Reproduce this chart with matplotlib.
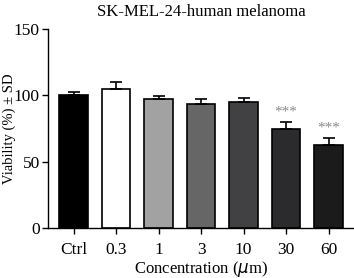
import matplotlib.pyplot as plt

# values
categories = ["Ctrl", "0.3", "1", "3", "10", "30", "60"]
viability = [100.3, 104.8, 97.0, 93.2, 95.0, 74.8, 62.5]
sd = [2.4, 5.2, 2.5, 3.8, 3.2, 4.8, 5.1]
stars = ["", "", "", "", "", "***", "***"]
colors = ["#000000", "#ffffff", "#a2a2a2", "#666666", "#414143", "#2b2b2d", "#1b1b1b"]

plt.rcParams["font.family"] = ["Liberation Serif", "DejaVu Serif"]

fig = plt.figure(figsize=(3.54, 2.78), dpi=100)
ax = fig.add_axes([0.136, 0.18, 0.864, 0.716])

x = range(len(categories))
ax.bar(x, viability, width=0.67, color=colors, edgecolor="black", linewidth=1.2,
       yerr=[[0] * len(sd), sd], error_kw=dict(ecolor="black", elinewidth=1.2, capsize=4, capthick=1.2))
for i, (v, s, st) in enumerate(zip(viability, sd, stars)):
    if st:
        ax.text(i, v + s + 3, st, ha="center", va="bottom", fontsize=11, color="#8a8a8a")

ax.set_xlim(-0.6, 6.6)
ax.set_ylim(0, 150)
ax.set_yticks([0, 50, 100, 150])
ax.set_xticks(list(x))
ax.set_xticklabels(categories)
ax.tick_params(labelsize=12.5, length=4, width=1.0, direction="out", pad=2)
ax.tick_params(axis="x", pad=6)
ax.spines["top"].set_visible(False)
ax.spines["right"].set_visible(False)
ax.spines["left"].set_linewidth(1.0)
ax.spines["bottom"].set_linewidth(1.0)
ax.set_ylabel("Viability (%) ± SD", fontsize=10.5, va="center")
ax.yaxis.set_label_coords(-0.128, 0.5)
ax.set_xlabel("Concentration ($\\mu$m)", fontsize=12, labelpad=1)
ax.set_title("SK-MEL-24-human melanoma", fontsize=12, pad=9)

fig.savefig("out.png", dpi=100)
